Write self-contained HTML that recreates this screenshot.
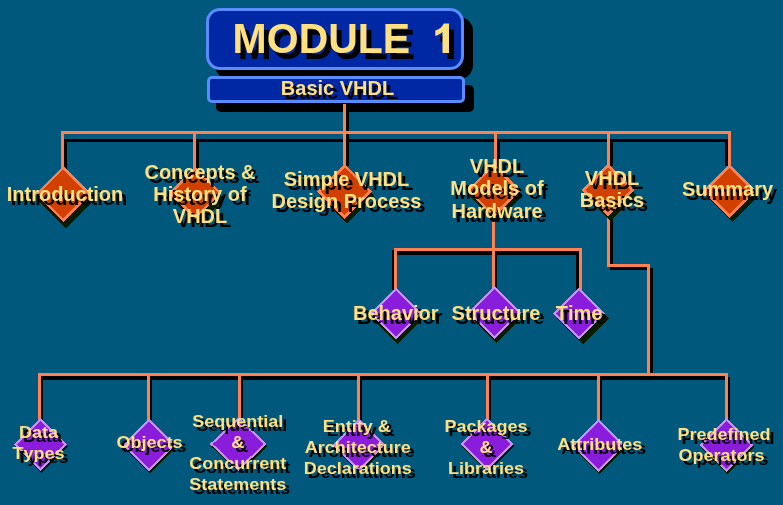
<!DOCTYPE html>
<html><head><meta charset="utf-8"><title>Module 1 - Basic VHDL</title>
<style>
html,body{margin:0;padding:0;background:#00587c;}
body{width:783px;height:505px;overflow:hidden;}
svg{display:block;position:absolute;left:0;top:0;}
svg.txt{will-change:transform;}
text{font-family:"Liberation Sans",sans-serif;font-weight:bold;font-kerning:none;}
</style></head><body>
<svg width="783" height="505" viewBox="0 0 783 505">
<rect x="0" y="0" width="783" height="505" fill="#00587c"/>
<g shape-rendering="crispEdges">
<rect x="346" y="112" width="3" height="54" fill="#000000"/>
<rect x="64" y="139" width="664" height="3" fill="#000000"/>
<rect x="64" y="139" width="3" height="30" fill="#000000"/>
<rect x="196" y="139" width="3" height="30" fill="#000000"/>
<rect x="497" y="139" width="3" height="27" fill="#000000"/>
<rect x="610" y="139" width="3" height="27" fill="#000000"/>
<rect x="725" y="139" width="3" height="27" fill="#000000"/>
<rect x="397" y="251" width="182" height="4" fill="#000000"/>
<rect x="392" y="250" width="2" height="40" fill="#000000"/>
<rect x="576" y="252" width="3" height="38" fill="#000000"/>
<rect x="495" y="252" width="2" height="36" fill="#000000"/>
<rect x="610" y="205" width="3" height="62" fill="#000000"/>
<rect x="610" y="267" width="37" height="3" fill="#000000"/>
<rect x="650" y="268" width="3" height="110" fill="#000000"/>
<rect x="41" y="376" width="685" height="4" fill="#000000"/>
<rect x="41" y="377" width="2" height="43" fill="#000000"/>
<rect x="150" y="377" width="2" height="43" fill="#000000"/>
<rect x="241" y="377" width="2" height="43" fill="#000000"/>
<rect x="360" y="377" width="2" height="43" fill="#000000"/>
<rect x="488.5" y="377" width="2" height="43" fill="#000000"/>
<rect x="600" y="377" width="2" height="43" fill="#000000"/>
<rect x="728" y="377" width="2" height="43" fill="#000000"/>
<rect x="343" y="104" width="3" height="62" fill="#ff8050"/>
<rect x="61" y="131" width="670" height="3" fill="#ff8050"/>
<rect x="61" y="131" width="3" height="38" fill="#ff8050"/>
<rect x="193" y="131" width="3" height="38" fill="#ff8050"/>
<rect x="494" y="131" width="3" height="35" fill="#ff8050"/>
<rect x="607" y="131" width="3" height="35" fill="#ff8050"/>
<rect x="728" y="131" width="3" height="35" fill="#ff8050"/>
<rect x="492" y="205" width="3" height="84" fill="#ff8050"/>
<rect x="394" y="248" width="188" height="3" fill="#ff8050"/>
<rect x="394" y="248" width="3" height="42" fill="#ff8050"/>
<rect x="579" y="248" width="3" height="42" fill="#ff8050"/>
<rect x="607" y="205" width="3" height="62" fill="#ff8050"/>
<rect x="607" y="264" width="43" height="3" fill="#ff8050"/>
<rect x="647" y="264" width="3" height="112" fill="#ff8050"/>
<rect x="38" y="373" width="690" height="3" fill="#ff8050"/>
<rect x="38" y="373" width="3" height="48" fill="#ff8050"/>
<rect x="147" y="373" width="3" height="48" fill="#ff8050"/>
<rect x="238" y="373" width="3" height="48" fill="#ff8050"/>
<rect x="357" y="373" width="3" height="48" fill="#ff8050"/>
<rect x="485.5" y="373" width="3" height="48" fill="#ff8050"/>
<rect x="597" y="373" width="3" height="48" fill="#ff8050"/>
<rect x="725" y="373" width="3" height="48" fill="#ff8050"/>
<polygon points="65.5,172.5 93.5,200.5 65.5,228.5 37.5,200.5" fill="#081c00"/>
<polygon points="63,166 91,194 63,222 35,194" fill="#ff8050"/>
<polygon points="63,169.6 87.4,194 63,218.4 38.6,194" fill="#d24000"/>
<polygon points="197.8,172.5 224.3,199 197.8,225.5 171.3,199" fill="#081c00"/>
<polygon points="195.3,166.5 221.8,193 195.3,219.5 168.8,193" fill="#ff8050"/>
<polygon points="195.3,170.1 218.20000000000002,193 195.3,215.9 172.4,193" fill="#d24000"/>
<polygon points="347.2,168.8 374.7,196.3 347.2,223.8 319.7,196.3" fill="#081c00"/>
<polygon points="344.7,163.8 372.2,191.3 344.7,218.8 317.2,191.3" fill="#ff8050"/>
<polygon points="344.7,167.4 368.59999999999997,191.3 344.7,215.20000000000002 320.8,191.3" fill="#d24000"/>
<polygon points="496.2,168.5 523.2,195.5 496.2,222.5 469.2,195.5" fill="#081c00"/>
<polygon points="493.7,163.5 520.7,190.5 493.7,217.5 466.7,190.5" fill="#ff8050"/>
<polygon points="493.7,167.1 517.1,190.5 493.7,213.9 470.3,190.5" fill="#d24000"/>
<polygon points="610.5,168.6 636.9,195 610.5,221.4 584.1,195" fill="#081c00"/>
<polygon points="608,163.6 634.4,190 608,216.4 581.6,190" fill="#ff8050"/>
<polygon points="608,167.2 630.8,190 608,212.8 585.2,190" fill="#d24000"/>
<polygon points="732.5,168 759.5,195 732.5,222 705.5,195" fill="#081c00"/>
<polygon points="729.5,164 756.5,191 729.5,218 702.5,191" fill="#ff8050"/>
<polygon points="729.5,167.6 752.9,191 729.5,214.4 706.1,191" fill="#d24000"/>
<polygon points="397.5,291.7 423.5,317.7 397.5,343.7 371.5,317.7" fill="#081c00"/>
<polygon points="395.8,287.7 421.8,313.7 395.8,339.7 369.8,313.7" fill="#c890f4"/>
<polygon points="395.8,290.7 418.8,313.7 395.8,336.7 372.8,313.7" fill="#8a1cdc"/>
<polygon points="496.2,290.3 522.5,316.6 496.2,342.90000000000003 469.9,316.6" fill="#081c00"/>
<polygon points="494.5,286.3 520.8,312.6 494.5,338.90000000000003 468.2,312.6" fill="#c890f4"/>
<polygon points="494.5,289.3 517.8,312.6 494.5,335.90000000000003 471.2,312.6" fill="#8a1cdc"/>
<polygon points="583,292.09999999999997 609.1,318.2 583,344.3 556.9,318.2" fill="#081c00"/>
<polygon points="579,287.59999999999997 605.1,313.7 579,339.8 552.9,313.7" fill="#c890f4"/>
<polygon points="579,290.59999999999997 602.1,313.7 579,336.8 555.9,313.7" fill="#8a1cdc"/>
<polygon points="41.5,419.6 68.2,446.3 41.5,473.0 14.8,446.3" fill="#081c00"/>
<polygon points="40.5,417.6 67.2,444.3 40.5,471.0 13.8,444.3" fill="#c890f4"/>
<polygon points="40.5,420.6 64.2,444.3 40.5,468.0 16.8,444.3" fill="#8a1cdc"/>
<polygon points="150,420.5 176.5,447 150,473.5 123.5,447" fill="#081c00"/>
<polygon points="149,418.5 175.5,445 149,471.5 122.5,445" fill="#c890f4"/>
<polygon points="149,421.5 172.5,445 149,468.5 125.5,445" fill="#8a1cdc"/>
<polygon points="239.4,419.2 267.9,446 239.4,472.8 210.9,446" fill="#081c00"/>
<polygon points="238.4,417.2 266.9,444 238.4,470.8 209.9,444" fill="#c890f4"/>
<polygon points="238.4,420.2 263.9,444 238.4,467.8 212.9,444" fill="#8a1cdc"/>
<polygon points="359.8,420.5 386.3,447 359.8,473.5 333.3,447" fill="#081c00"/>
<polygon points="358.8,418.5 385.3,445 358.8,471.5 332.3,445" fill="#c890f4"/>
<polygon points="358.8,421.5 382.3,445 358.8,468.5 335.3,445" fill="#8a1cdc"/>
<polygon points="488,419.7 514.3,446 488,472.3 461.7,446" fill="#081c00"/>
<polygon points="487,417.7 513.3,444 487,470.3 460.7,444" fill="#c890f4"/>
<polygon points="487,420.7 510.3,444 487,467.3 463.7,444" fill="#8a1cdc"/>
<polygon points="599.7,421.3 626.2,447.8 599.7,474.3 573.2,447.8" fill="#081c00"/>
<polygon points="598.7,419.3 625.2,445.8 598.7,472.3 572.2,445.8" fill="#c890f4"/>
<polygon points="598.7,422.3 622.2,445.8 598.7,469.3 575.2,445.8" fill="#8a1cdc"/>
<polygon points="727.6,420.3 754.3000000000001,447 727.6,473.7 700.9,447" fill="#081c00"/>
<polygon points="726.6,418.3 753.3000000000001,445 726.6,471.7 699.9,445" fill="#c890f4"/>
<polygon points="726.6,421.3 750.3000000000001,445 726.6,468.7 702.9,445" fill="#8a1cdc"/>
</g>
<rect x="215" y="17" width="258" height="62" rx="14" fill="#000"/>
<rect x="206" y="8" width="258" height="62" rx="14" fill="#5a8cff"/>
<rect x="209" y="11" width="252" height="56" rx="11" fill="#0028a4"/>
<rect x="216" y="85" width="258" height="27" rx="5" fill="#000"/>
<rect x="207" y="76" width="258" height="27" rx="5" fill="#5a8cff"/>
<rect x="210" y="79" width="252" height="21" rx="2" fill="#0028a4"/>
<rect x="343" y="104" width="3" height="10" fill="#ff8050" shape-rendering="crispEdges"/>
</svg>
<svg class="txt" width="783" height="505" viewBox="0 0 783 505">
<text transform="translate(237.6,59) scale(1,1.045)" font-size="41" text-anchor="start" fill="#000" >MODULE</text>
<text transform="translate(232.6,53) scale(1,1.045)" font-size="41" text-anchor="start" fill="#ffe080" >MODULE</text>
<path transform="translate(5.6,6)" fill="#000" d="M441.9,53 L448.4,53 L448.4,23.4 L443.2,23.4 C441.5,27 438.5,29.3 434.7,30.6 L434.7,36 C437.5,35.2 440,33.8 441.9,32 Z"/>
<path transform="translate(0.6,0)" fill="#ffe080" d="M441.9,53 L448.4,53 L448.4,23.4 L443.2,23.4 C441.5,27 438.5,29.3 434.7,30.6 L434.7,36 C437.5,35.2 440,33.8 441.9,32 Z"/>
<text transform="translate(341.5,98.7) scale(1,1.045)" font-size="20" text-anchor="middle" fill="#000" >Basic VHDL</text>
<text transform="translate(337.5,94.7) scale(1,1.045)" font-size="20" text-anchor="middle" fill="#ffe080" >Basic VHDL</text>
<text transform="translate(69,204.7) scale(1,1.045)" font-size="20" text-anchor="middle" fill="#000" >Introduction</text>
<text transform="translate(65,200.7) scale(1,1.045)" font-size="20" text-anchor="middle" fill="#ffe080" >Introduction</text>
<text transform="translate(204,182.8) scale(1,1.045)" font-size="20" text-anchor="middle" fill="#000" >Concepts &amp;</text>
<text transform="translate(204,204.8) scale(1,1.045)" font-size="20" text-anchor="middle" fill="#000" >History of</text>
<text transform="translate(204,226.8) scale(1,1.045)" font-size="20" text-anchor="middle" fill="#000" >VHDL</text>
<text transform="translate(200,178.8) scale(1,1.045)" font-size="20" text-anchor="middle" fill="#ffe080" >Concepts &amp;</text>
<text transform="translate(200,200.8) scale(1,1.045)" font-size="20" text-anchor="middle" fill="#ffe080" >History of</text>
<text transform="translate(200,222.8) scale(1,1.045)" font-size="20" text-anchor="middle" fill="#ffe080" >VHDL</text>
<text transform="translate(350.5,190.2) scale(1,1.045)" font-size="20" text-anchor="middle" fill="#000" >Simple VHDL</text>
<text transform="translate(350.5,211.6) scale(1,1.045)" font-size="20" text-anchor="middle" fill="#000" >Design Process</text>
<text transform="translate(346.5,186.2) scale(1,1.045)" font-size="20" text-anchor="middle" fill="#ffe080" >Simple VHDL</text>
<text transform="translate(346.5,207.6) scale(1,1.045)" font-size="20" text-anchor="middle" fill="#ffe080" >Design Process</text>
<text transform="translate(501,177) scale(1,1.045)" font-size="20" text-anchor="middle" fill="#000" >VHDL</text>
<text transform="translate(501,199.4) scale(1,1.045)" font-size="20" text-anchor="middle" fill="#000" >Models of</text>
<text transform="translate(501,222) scale(1,1.045)" font-size="20" text-anchor="middle" fill="#000" >Hardware</text>
<text transform="translate(497,173) scale(1,1.045)" font-size="20" text-anchor="middle" fill="#ffe080" >VHDL</text>
<text transform="translate(497,195.4) scale(1,1.045)" font-size="20" text-anchor="middle" fill="#ffe080" >Models of</text>
<text transform="translate(497,218) scale(1,1.045)" font-size="20" text-anchor="middle" fill="#ffe080" >Hardware</text>
<text transform="translate(616,189) scale(1,1.045)" font-size="20" text-anchor="middle" fill="#000" >VHDL</text>
<text transform="translate(616,211) scale(1,1.045)" font-size="20" text-anchor="middle" fill="#000" >Basics</text>
<text transform="translate(612,185) scale(1,1.045)" font-size="20" text-anchor="middle" fill="#ffe080" >VHDL</text>
<text transform="translate(612,207) scale(1,1.045)" font-size="20" text-anchor="middle" fill="#ffe080" >Basics</text>
<text transform="translate(731.5,200) scale(1,1.045)" font-size="20" text-anchor="middle" fill="#000" >Summary</text>
<text transform="translate(727.5,196) scale(1,1.045)" font-size="20" text-anchor="middle" fill="#ffe080" >Summary</text>
<text transform="translate(399.8,323.5) scale(1,1.025)" font-size="20" text-anchor="middle" fill="#000" >Behavior</text>
<text transform="translate(395.8,319.5) scale(1,1.025)" font-size="20" text-anchor="middle" fill="#ffe080" >Behavior</text>
<text transform="translate(500,323.5) scale(1,1.025)" font-size="20" text-anchor="middle" fill="#000" >Structure</text>
<text transform="translate(496,319.5) scale(1,1.025)" font-size="20" text-anchor="middle" fill="#ffe080" >Structure</text>
<text transform="translate(583,323.5) scale(1,1.025)" font-size="20" text-anchor="middle" fill="#000" >Time</text>
<text transform="translate(579,319.5) scale(1,1.025)" font-size="20" text-anchor="middle" fill="#ffe080" >Time</text>
<text transform="translate(42.6,442.3) scale(1,0.93)" font-size="18" text-anchor="middle" fill="#000" >Data</text>
<text transform="translate(42.6,463.3) scale(1,0.93)" font-size="18" text-anchor="middle" fill="#000" >Types</text>
<text transform="translate(38.6,438.3) scale(1,0.93)" font-size="18" text-anchor="middle" fill="#ffe080" >Data</text>
<text transform="translate(38.6,459.3) scale(1,0.93)" font-size="18" text-anchor="middle" fill="#ffe080" >Types</text>
<text transform="translate(153.6,451.7) scale(1,0.95)" font-size="18" text-anchor="middle" fill="#000" >Objects</text>
<text transform="translate(149.6,447.7) scale(1,0.95)" font-size="18" text-anchor="middle" fill="#ffe080" >Objects</text>
<text transform="translate(241.7,431.2) scale(1,0.93)" font-size="18" text-anchor="middle" fill="#000" >Sequential</text>
<text transform="translate(241.7,452.2) scale(1,0.93)" font-size="18" text-anchor="middle" fill="#000" >&amp;</text>
<text transform="translate(241.7,473.2) scale(1,0.93)" font-size="18" text-anchor="middle" fill="#000" >Concurrent</text>
<text transform="translate(241.7,494.2) scale(1,0.93)" font-size="18" text-anchor="middle" fill="#000" >Statements</text>
<text transform="translate(237.7,427.2) scale(1,0.93)" font-size="18" text-anchor="middle" fill="#ffe080" >Sequential</text>
<text transform="translate(237.7,448.2) scale(1,0.93)" font-size="18" text-anchor="middle" fill="#ffe080" >&amp;</text>
<text transform="translate(237.7,469.2) scale(1,0.93)" font-size="18" text-anchor="middle" fill="#ffe080" >Concurrent</text>
<text transform="translate(237.7,490.2) scale(1,0.93)" font-size="18" text-anchor="middle" fill="#ffe080" >Statements</text>
<text transform="translate(360.7,436.0) scale(1,0.93)" font-size="18" text-anchor="middle" fill="#000" >Entity &amp;</text>
<text transform="translate(361.7,456.8) scale(1,0.93)" font-size="18" text-anchor="middle" fill="#000" >Architecture</text>
<text transform="translate(361.7,477.6) scale(1,0.93)" font-size="18" text-anchor="middle" fill="#000" >Declarations</text>
<text transform="translate(356.7,432.0) scale(1,0.93)" font-size="18" text-anchor="middle" fill="#ffe080" >Entity &amp;</text>
<text transform="translate(357.7,452.8) scale(1,0.93)" font-size="18" text-anchor="middle" fill="#ffe080" >Architecture</text>
<text transform="translate(357.7,473.6) scale(1,0.93)" font-size="18" text-anchor="middle" fill="#ffe080" >Declarations</text>
<text transform="translate(490,435.5) scale(1,0.93)" font-size="18" text-anchor="middle" fill="#000" >Packages</text>
<text transform="translate(490,456.5) scale(1,0.93)" font-size="18" text-anchor="middle" fill="#000" >&amp;</text>
<text transform="translate(490,477.5) scale(1,0.93)" font-size="18" text-anchor="middle" fill="#000" >Libraries</text>
<text transform="translate(486,431.5) scale(1,0.93)" font-size="18" text-anchor="middle" fill="#ffe080" >Packages</text>
<text transform="translate(486,452.5) scale(1,0.93)" font-size="18" text-anchor="middle" fill="#ffe080" >&amp;</text>
<text transform="translate(486,473.5) scale(1,0.93)" font-size="18" text-anchor="middle" fill="#ffe080" >Libraries</text>
<text transform="translate(603.8,453.7) scale(1,0.95)" font-size="18" text-anchor="middle" fill="#000" >Attributes</text>
<text transform="translate(599.8,449.7) scale(1,0.95)" font-size="18" text-anchor="middle" fill="#ffe080" >Attributes</text>
<text transform="translate(728,444.4) scale(1,0.93)" font-size="18" text-anchor="middle" fill="#000" >Predefined</text>
<text transform="translate(725.5,465.2) scale(1,0.93)" font-size="18" text-anchor="middle" fill="#000" >Operators</text>
<text transform="translate(724,440.4) scale(1,0.93)" font-size="18" text-anchor="middle" fill="#ffe080" >Predefined</text>
<text transform="translate(721.5,461.2) scale(1,0.93)" font-size="18" text-anchor="middle" fill="#ffe080" >Operators</text>
</svg>
</body></html>
